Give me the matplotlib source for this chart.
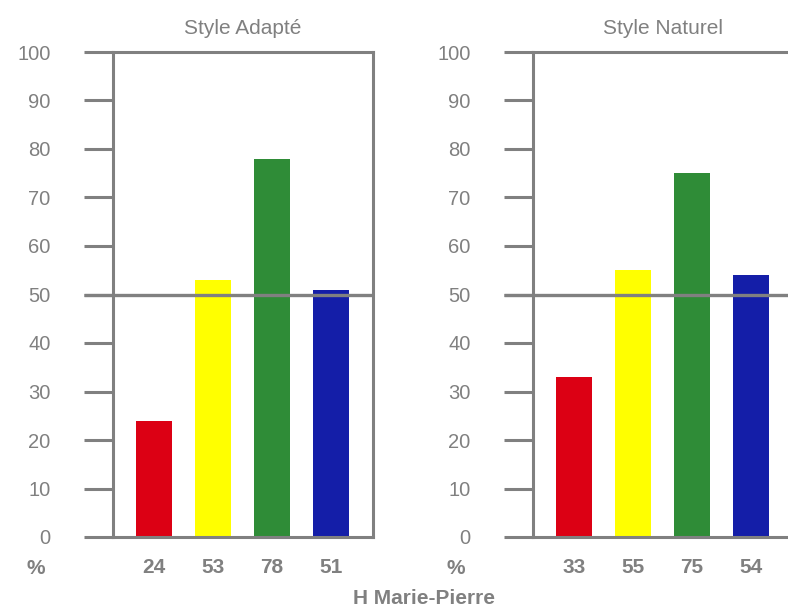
import matplotlib
matplotlib.use("Agg")
import matplotlib.pyplot as plt
import matplotlib.transforms as mtransforms

plt.rcParams['font.family'] = ['Liberation Sans', 'DejaVu Sans']

titles = ["Style Adapté", "Style Naturel"]
values_adapte = [24, 53, 78, 51]
values_naturel = [33, 55, 75, 54]
colors = ["#DC0014", "#FFFF00", "#2F8C37", "#141EA8"]
yticks = [0, 10, 20, 30, 40, 50, 60, 70, 80, 90, 100]
person = "H Marie-Pierre"

GRAY = "#808080"
W, H = 788, 610
fig = plt.figure(figsize=(W / 100, H / 100), dpi=100)

def px_axes(x0, y_top, w, h):
    return fig.add_axes([x0 / W, (H - y_top - h) / H, w / W, h / H])

panels = [(113, titles[0], values_adapte), (533, titles[1], values_naturel)]
for x0, title, vals in panels:
    ax = px_axes(x0, 52, 260, 485)
    xs = list(range(len(vals)))
    ax.bar(xs, vals, width=0.61, color=colors, zorder=2)
    ax.set_xlim(-0.695, 3.712)
    ax.set_ylim(0, 100)
    ax.set_yticks(yticks)
    ax.set_yticklabels([str(t) for t in yticks], fontsize=14.5, color=GRAY)
    ax.tick_params(axis='y', length=21, width=2.2, color=GRAY, pad=24, direction='out')
    ax.set_xticks(xs)
    ax.set_xticklabels([str(v) for v in vals], fontsize=15, color=GRAY, fontweight='bold')
    ax.tick_params(axis='x', length=0, pad=15)
    for s in ax.spines.values():
        s.set_color(GRAY)
        s.set_linewidth(2.2)
    trans = mtransforms.blended_transform_factory(ax.transAxes, ax.transData)
    ax.plot([-29 / 260, 1.0], [50, 50], color=GRAY, lw=2.4, transform=trans,
            clip_on=False, zorder=3, solid_capstyle='butt')
    ax.set_title(title, fontsize=15, color=GRAY, pad=13)
    fig.text((x0 - 77) / W, 1 - 569 / H, "%", fontsize=15, color=GRAY,
             fontweight='bold', ha='center', va='center')

fig.text(424 / W, 1 - 598 / H, person, fontsize=15, color=GRAY,
         fontweight='bold', ha='center', va='center')

fig.savefig("out.png", dpi=100)
